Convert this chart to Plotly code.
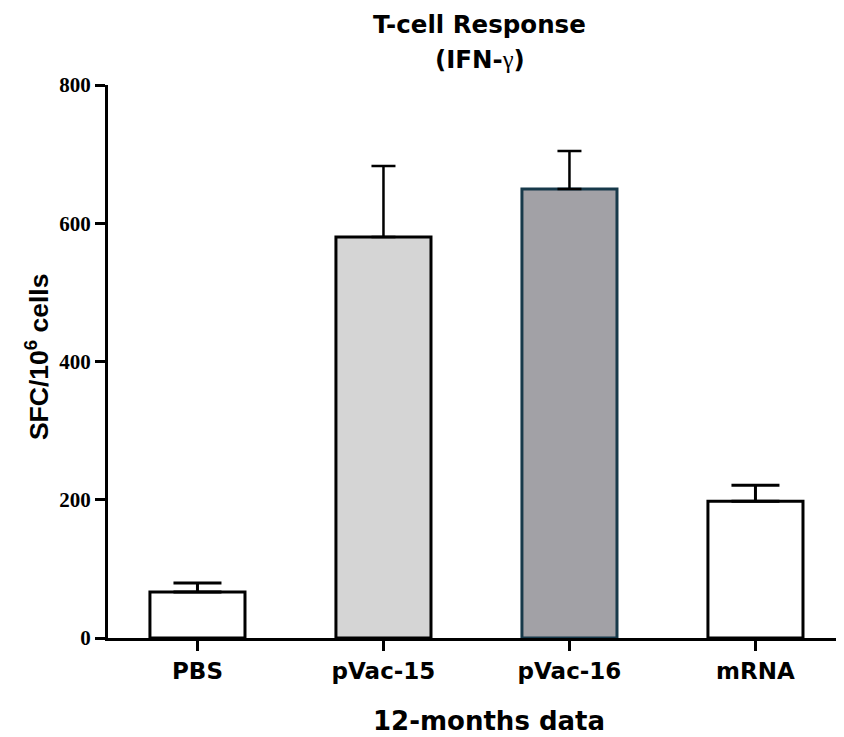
import plotly.graph_objects as go

categories = ["PBS", "pVac-15", "pVac-16", "mRNA"]
means = [66.5, 580, 649.5, 198]
errors_up = [13, 103, 55, 23]
y_ticks = [0, 200, 400, 600, 800]
title_line1 = "T-cell Response"
title_line2 = "(IFN-<span style='font-family:Liberation Serif;font-weight:normal'>γ</span>)"
x_title = "12-months data"
y_title = "SFC/10<sup>6</sup> cells"

# styles
fill_colors = ["#ffffff", "#d5d5d5", "#a2a1a6", "#ffffff"]
line_colors = ["#000000", "#000000", "#17394a", "#000000"]
cap_widths = [24, 12, 12, 24]
err_thick = [3, 2.5, 2.5, 3]

fig = go.Figure()
for i, cat in enumerate(categories):
    fig.add_trace(go.Bar(
        x=[cat], y=[means[i]],
        marker=dict(color=fill_colors[i], line=dict(color=line_colors[i], width=3)),
        error_y=dict(type="data", array=[errors_up[i]], arrayminus=[0], symmetric=False,
                     color="#000000", thickness=err_thick[i], width=cap_widths[i]),
        showlegend=False,
    ))

sans = "DejaVu Sans"
fig.update_layout(
    width=836, height=729,
    barmode="overlay",
    bargap=0.489,
    plot_bgcolor="white", paper_bgcolor="white",
    margin=dict(l=100, r=0, t=77, b=99),
    xaxis=dict(
        type="category", categoryorder="array", categoryarray=categories,
        range=[-0.481, 3.476],
        showline=True, linecolor="#000000", linewidth=3,
        ticks="outside", ticklen=10, tickwidth=3, tickcolor="#000000",
        tickfont=dict(family=sans, size=23, color="#000000", weight="bold"),
        showgrid=False, zeroline=False,
    ),
    yaxis=dict(
        range=[0, 800], tickvals=y_ticks,
        showline=True, linecolor="#000000", linewidth=3,
        ticks="outside", ticklen=10, tickwidth=3, tickcolor="#000000",
        tickfont=dict(family="Liberation Serif", size=21, color="#000000", weight="bold"),
        showgrid=False, zeroline=False,
    ),
    annotations=[
        dict(text=title_line1, xref="paper", yref="paper", x=0.505, y=1.1103,
             xanchor="center", yanchor="middle", showarrow=False,
             font=dict(family=sans, size=24.5, color="#000000", weight="bold")),
        dict(text=title_line2, xref="paper", yref="paper", x=0.505, y=1.046,
             xanchor="center", yanchor="middle", showarrow=False,
             font=dict(family=sans, size=24.5, color="#000000", weight="bold")),
        dict(text=x_title, xref="paper", yref="paper", x=0.5177, y=-0.150,
             xanchor="center", yanchor="middle", showarrow=False,
             font=dict(family=sans, size=26, color="#000000", weight="bold")),
        dict(text=y_title, xref="paper", yref="paper", x=-0.0965, y=0.508,
             xanchor="center", yanchor="middle", textangle=-90, showarrow=False,
             font=dict(family="Liberation Sans", size=26.5, color="#000000", weight="bold")),
    ],
)

fig.write_html("out.html")
